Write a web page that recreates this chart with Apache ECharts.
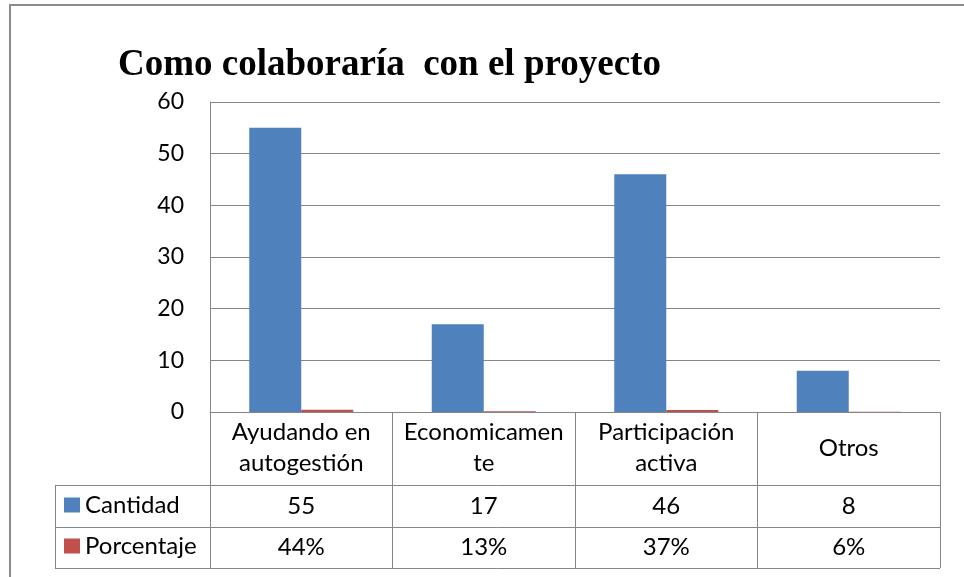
<!DOCTYPE html>
<html>
<head>
<meta charset="utf-8">
<script src="https://cdn.jsdelivr.net/npm/echarts@6/dist/echarts.min.js"></script>
<style>
  html, body { margin: 0; padding: 0; background: #fff; }
  #chart { width: 964px; height: 577px; }
</style>
</head>
<body>
<div id="chart"></div>
<script>
// data
var categories = ['Ayudando en\nautogestión', 'Economicamen\nte', 'Participación\nactiva', 'Otros'];
var cantidad = [55, 17, 46, 8];
var porcentaje = [0.44, 0.13, 0.37, 0.06];
var yTicks = { min: 0, max: 60, interval: 10 };

var gray = '#868686';
var font = 'Lato';

var chart = echarts.init(document.getElementById('chart'));

var option = {
    animation: false,
    title: {
        text: 'Como colaboraría  con el proyecto',
        left: 118,
        top: 47,
        padding: 0,
        textStyle: {
            fontFamily: 'Liberation Serif',
            fontWeight: 'bold',
            fontSize: 37,
            color: '#000'
        }
    },
    legend: {
        orient: 'vertical',
        left: 64,
        top: 492,
        padding: 0,
        itemGap: 15,
        itemWidth: 16,
        itemHeight: 15,
        icon: 'rect',
        selectedMode: false,
        textStyle: { fontFamily: font, fontSize: 24, lineHeight: 26, color: '#000' },
        data: ['Cantidad', 'Porcentaje']
    },
    grid: {
        left: 210,
        right: 24,
        top: 102,
        bottom: 165,
        containLabel: false,
        outerBoundsMode: 'none'
    },
    xAxis: [
        {
            type: 'category',
            data: categories,
            axisLine: { show: true, lineStyle: { color: gray, width: 1 } },
            axisTick: { show: true, interval: 0, length: 156, lineStyle: { color: gray, width: 1 } },
            axisLabel: {
                interval: 0,
                margin: 36,
                verticalAlign: 'middle',
                fontFamily: font,
                fontSize: 24,
                lineHeight: 31,
                color: '#000'
            },
            splitLine: { show: false }
        },
        {
            type: 'category',
            position: 'bottom',
            offset: 73,
            data: cantidad.map(function (v) { return String(v); }),
            axisLine: { show: false },
            axisTick: { show: false },
            axisLabel: {
                interval: 0,
                margin: 21,
                verticalAlign: 'middle',
                fontFamily: font,
                fontSize: 24,
                color: '#000'
            }
        },
        {
            type: 'category',
            position: 'bottom',
            offset: 115,
            data: porcentaje.map(function (v) { return Math.round(v * 100) + '%'; }),
            axisLine: { show: false },
            axisTick: { show: false },
            axisLabel: {
                interval: 0,
                margin: 20,
                verticalAlign: 'middle',
                fontFamily: font,
                fontSize: 24,
                color: '#000'
            }
        }
    ],
    yAxis: {
        type: 'value',
        min: yTicks.min,
        max: yTicks.max,
        interval: yTicks.interval,
        axisLine: { show: true, lineStyle: { color: gray, width: 1 } },
        axisTick: { show: false },
        axisLabel: { margin: 26, fontFamily: font, fontSize: 23, color: '#000' },
        splitLine: { show: true, lineStyle: { color: gray, width: 1 } }
    },
    graphic: [
        // outer chart frame (right/bottom sit off the page)
        { type: 'rect', shape: { x: 10, y: 5, width: 1000, height: 1000 }, style: { fill: 'none', stroke: '#8c8c8c', lineWidth: 2 }, silent: true },
        // data table rules
        { type: 'line', shape: { x1: 55, y1: 485.5, x2: 940, y2: 485.5 }, style: { stroke: gray, lineWidth: 1 }, silent: true },
        { type: 'line', shape: { x1: 55, y1: 527.5, x2: 940, y2: 527.5 }, style: { stroke: gray, lineWidth: 1 }, silent: true },
        { type: 'line', shape: { x1: 55, y1: 568.5, x2: 940, y2: 568.5 }, style: { stroke: gray, lineWidth: 1 }, silent: true },
        { type: 'line', shape: { x1: 55.5, y1: 485, x2: 55.5, y2: 569 }, style: { stroke: gray, lineWidth: 1 }, silent: true }
    ],
    series: [
        {
            name: 'Cantidad',
            type: 'bar',
            data: cantidad,
            barWidth: 52,
            barGap: '0%',
            itemStyle: { color: '#4F81BD' }
        },
        {
            name: 'Porcentaje',
            type: 'bar',
            data: porcentaje,
            barWidth: 52,
            barGap: '0%',
            itemStyle: { color: '#C0504D' }
        }
    ]
};

chart.setOption(option);
</script>
</body>
</html>
